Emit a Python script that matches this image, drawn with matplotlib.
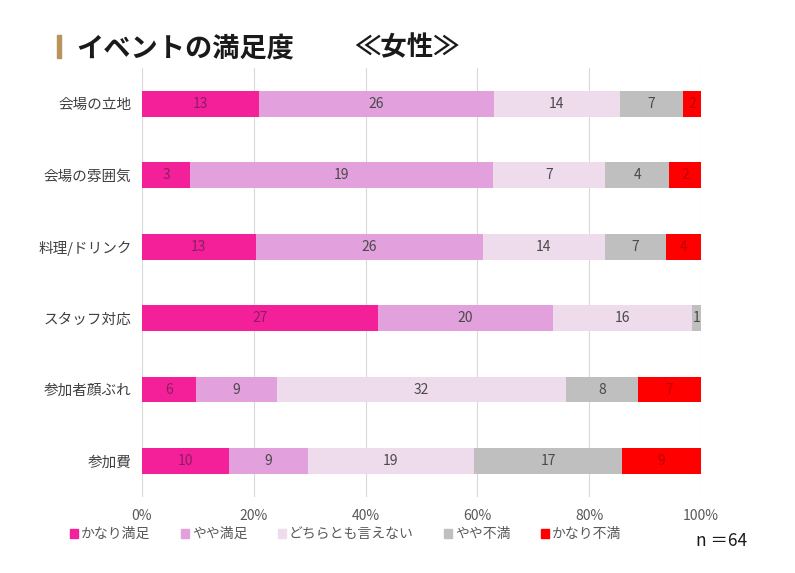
import matplotlib.pyplot as plt
import numpy as np

plt.rcParams['font.family'] = ['Noto Sans CJK JP', 'DejaVu Sans']

# categories top to bottom
categories = ['会場の立地', '会場の雰囲気', '料理/ドリンク', 'スタッフ対応', '参加者顔ぶれ', '参加費']
answers = ['かなり満足', 'やや満足', 'どちらとも言えない', 'やや不満', 'かなり不満']
very_satisfied = [13, 3, 13, 27, 6, 10]
satisfied = [26, 19, 26, 20, 9, 9]
neutral = [14, 7, 14, 16, 32, 19]
dissatisfied = [7, 4, 7, 1, 8, 17]
very_dissatisfied = [2, 2, 4, 0, 7, 9]
n_total = 64

series = [very_satisfied, satisfied, neutral, dissatisfied, very_dissatisfied]
colors = ['#F4209A', '#E2A0DC', '#EEDCEC', '#BFBFBF', '#FF0000']
label_colors = ['#8A1E62', '#4A4A4A', '#4A4A4A', '#4A4A4A', '#C00000']

counts = np.array(series, dtype=float)
shares = counts / counts.sum(axis=0)

fig = plt.figure(figsize=(7.95, 5.73), dpi=100)
ax = fig.add_axes([0.1786, 0.133, 0.7032, 0.748])

y = np.arange(len(categories))
left = np.zeros(len(categories))
for i in range(len(series)):
    ax.barh(y, shares[i], left=left, height=0.36, color=colors[i], zorder=2)
    for j in range(len(categories)):
        if counts[i][j] > 0:
            ax.text(left[j] + shares[i][j] / 2, y[j], str(int(counts[i][j])),
                    ha='center', va='center', fontsize=10, color=label_colors[i], zorder=3)
    left += shares[i]

ax.set_ylim(len(categories) - 0.5, -0.5)
ax.set_xlim(0, 1)
ax.set_yticks(y)
ax.set_yticklabels(categories, fontsize=10.5, color='#404040')
ax.set_xticks(np.linspace(0, 1, 6))
ax.set_xticklabels(['0%', '20%', '40%', '60%', '80%', '100%'], fontsize=10, color='#595959')
ax.tick_params(axis='y', length=0, pad=7.5)
ax.tick_params(axis='x', length=0, pad=9)
ax.grid(axis='x', color='#D9D9D9', linewidth=0.8, zorder=0)
for s in ax.spines.values():
    s.set_visible(False)

# legend drawn by hand so the uneven spacing matches
legend_x = [0.088, 0.228, 0.350, 0.5585, 0.6805]
for i in range(len(answers)):
    fig.patches.append(plt.Rectangle((legend_x[i], 0.061), 0.010, 0.015,
                                     transform=fig.transFigure, color=colors[i], figure=fig))
    fig.text(legend_x[i] + 0.0135, 0.068, answers[i], fontsize=10, va='center', color='#595959')

# title with gold bar
fig.patches.append(plt.Rectangle((0.072, 0.899), 0.005, 0.040, transform=fig.transFigure,
                                 color='#B8935A', figure=fig))
fig.text(0.096, 0.916, 'イベントの満足度', fontsize=19.6, fontweight='bold', va='center', color='#1A1A1A')
fig.text(0.446, 0.916, '≪女性≫', fontsize=19, fontweight='bold', va='center', color='#1A1A1A')
fig.text(0.876, 0.056, 'n ＝' + str(n_total), fontsize=12.5, va='center', color='#1A1A1A')

plt.savefig('out.png', dpi=100)
